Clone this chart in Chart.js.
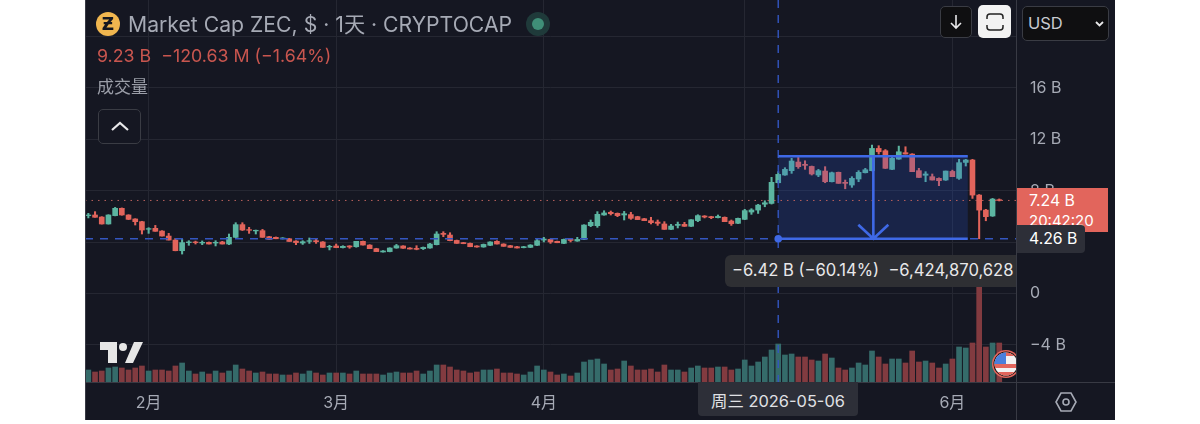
<!DOCTYPE html>
<html>
<head>
<meta charset="utf-8">
<title>Market Cap ZEC</title>
<script src="https://cdn.jsdelivr.net/npm/chart.js@4/dist/chart.umd.min.js"></script>
<style>
  html, body { margin: 0; padding: 0; background: #fff; overflow: hidden; }
  body { width: 1200px; height: 424px; position: relative; font-family: Inter, "Noto Sans CJK SC", sans-serif; }
  canvas { position: absolute; left: 0; top: 0; }
  .abs { position: absolute; white-space: nowrap; }
  .btn { box-sizing: border-box; border: 1.5px solid #3a3c44; border-radius: 5px; background: #0f0f11; }
</style>
</head>
<body>
<canvas id="chart" width="1200" height="424"></canvas>

<div class="abs" style="left:96px;top:12px;width:24px;height:24px;border-radius:50%;background:#f0b64f;color:#15171f;font:bold 17px/24px 'DejaVu Sans';text-align:center">Ƶ</div>
<div class="abs" style="left:128px;top:11px;font-size:21.2px;line-height:26px;color:#a6aab5">Market Cap ZEC, $ · 1天 · CRYPTOCAP</div>
<div class="abs" style="left:526px;top:12px;width:24px;height:24px;border-radius:50%;background:#1f3a3a"></div>
<div class="abs" style="left:532px;top:18px;width:12px;height:12px;border-radius:50%;background:#3f8f78"></div>
<div class="abs" style="left:97px;top:45px;font-size:17.8px;line-height:22px;color:#c9564f">9.23 B&nbsp; −120.63 M (−1.64%)</div>
<div class="abs" style="left:97px;top:77px;font-size:17px;line-height:21px;color:#9b9ea8">成交量</div>
<div class="abs btn" style="left:98px;top:109px;width:43px;height:35px;background:#151722"></div>
<svg class="abs" style="left:110px;top:120px" width="20" height="12"><path d="M2 10 L10 3 L18 10" fill="none" stroke="#e8e8ea" stroke-width="2.2"/></svg>

<div class="abs btn" style="left:940px;top:6px;width:32px;height:32px"></div>
<svg class="abs" style="left:948px;top:13px" width="16" height="18"><path d="M8 2 V15 M3 10 L8 15 L13 10" fill="none" stroke="#e8e8ea" stroke-width="1.6"/></svg>
<div class="abs" style="left:978px;top:5px;width:33px;height:33px;border-radius:5px;background:#f2f2f2"></div>
<svg class="abs" style="left:986px;top:13px" width="18" height="18"><path d="M1 6 V4 Q1 1 4 1 H14 Q17 1 17 4 V6 M1 12 V14 Q1 17 4 17 H14 Q17 17 17 14 V12" fill="none" stroke="#222" stroke-width="1.5"/></svg>
<div class="abs btn" style="left:1022px;top:6px;width:87px;height:35px"></div>
<div class="abs" style="left:1028px;top:12px;font-size:16.5px;line-height:22px;color:#c8cad0">USD</div>
<svg class="abs" style="left:1094px;top:20px" width="11" height="8"><path d="M2 2 L5.5 5.5 L9 2" fill="none" stroke="#e8e8ea" stroke-width="1.8"/></svg>

<svg class="abs" style="left:100px;top:342px" width="44" height="22"><path d="M0 0 H17 V21 H8 V8 H0 Z M25 21 L34 0 H43 L33 21 Z" fill="#e6e6e6"/><circle cx="23" cy="5" r="4" fill="#e6e6e6"/></svg>

<div class="abs" style="left:1017px;top:188px;width:91px;height:44px;background:#e2655c;color:#fff;font-size:15.8px;line-height:20px;box-sizing:border-box;padding:3px 0 0 12px">7.24 B<br><span style="font-size:15px">20:42:20</span></div>
<div class="abs" style="left:1017px;top:225px;width:68px;height:28px;background:#2d2f38;border-radius:0 4px 4px 0;color:#fff;font-size:15.8px;line-height:28px;box-sizing:border-box;padding-left:12px">4.26 B</div>
<div class="abs" style="left:725px;top:255px;width:291px;height:32px;background:#2e2f33;border-radius:6px 0 0 6px;color:#e8e8ea;font-size:16.6px;line-height:31px;box-sizing:border-box;padding-left:7px">−6.42 B (−60.14%)&nbsp; −6,424,870,628</div>
<div class="abs" style="left:698px;top:382px;width:160px;height:34px;background:#2d2f38;border-radius:0 0 4px 4px;color:#e0e1e5;font-size:16.4px;line-height:38px;text-align:center">周三 2026-05-06</div>

<svg class="abs" style="left:992px;top:349px" width="24" height="30"><defs><clipPath id="f"><circle cx="14" cy="15" r="11.5"/></clipPath></defs>
<circle cx="14" cy="15" r="14" fill="#e2655c"/><circle cx="14" cy="15" r="12.5" fill="#111"/>
<g clip-path="url(#f)"><rect width="30" height="30" fill="#f2f2f2"/><rect x="0" y="15" width="30" height="4" fill="#e2655c"/><rect x="0" y="3" width="30" height="4" fill="#e2655c"/><rect x="0" y="23" width="30" height="4" fill="#e2655c"/><rect x="0" y="2" width="14" height="13" fill="#4a7fdc"/></g></svg>

<svg class="abs" style="left:1055px;top:390px" width="22" height="24"><path d="M6 3 H16 L21 12 L16 21 H6 L1 12 Z" fill="none" stroke="#a6aab5" stroke-width="1.6"/><circle cx="11" cy="12" r="3" fill="none" stroke="#a6aab5" stroke-width="1.6"/></svg>

<script>
// market cap candles in billions USD, one per day from 2026-01-23, last is 2026-06-08
const opens = [
  6.06,6.11,5.95,5.41,6.06,6.63,6.11,5.80,5.59,5.00,
  5.07,4.86,4.47,4.16,3.33,3.96,4.01,3.93,3.98,3.93,
  4.01,3.85,4.37,5.36,4.97,4.87,4.89,4.42,4.37,4.26,
  4.26,4.08,3.93,4.06,4.11,4.01,3.62,3.70,3.57,3.70,
  3.64,4.06,3.77,3.49,3.23,3.26,3.54,3.70,3.54,3.51,
  3.49,3.54,3.80,4.68,4.55,4.13,3.96,3.90,3.70,3.62,
  3.75,4.06,3.85,3.72,3.64,3.57,3.59,3.75,4.16,4.21,
  4.06,3.90,4.24,4.08,4.21,5.28,5.28,6.11,6.32,6.24,
  6.11,6.14,5.98,5.82,5.67,5.56,5.41,4.99,5.30,5.38,
  5.23,5.67,6.03,5.98,5.90,5.93,5.64,5.46,5.77,6.34,
  6.49,6.95,7.01,8.62,9.22,9.56,10.23,10.05,9.89,9.22,
  9.53,8.70,9.43,8.65,8.44,8.91,9.40,9.56,11.29,11.11,
  9.66,10.46,10.96,10.85,9.56,9.20,9.09,8.96,8.83,9.50,
  8.96,10.20,10.39,7.66,6.49,6.03,7.30];
const highs = [
  6.24,6.37,5.98,6.13,6.70,6.66,6.13,5.82,5.62,5.12,
  5.30,4.89,4.68,4.29,4.21,4.11,4.08,4.09,4.01,4.11,
  4.06,4.63,5.51,5.51,5.15,4.94,4.99,4.45,4.40,4.35,
  4.29,4.11,4.11,4.32,4.27,4.04,3.75,3.85,3.72,3.72,
  4.06,4.08,3.80,3.52,3.34,3.56,3.82,3.72,3.57,3.72,
  3.62,3.90,4.81,4.81,4.73,4.16,3.98,3.93,3.72,3.85,
  4.03,4.11,3.87,3.75,3.67,3.67,3.80,4.21,4.37,4.24,
  4.08,4.24,4.29,4.37,5.35,5.72,6.37,6.44,6.42,6.27,
  6.39,6.32,6.01,5.85,5.93,5.72,5.59,5.38,5.56,5.54,
  5.75,6.13,6.06,6.01,6.11,5.96,5.72,5.87,6.55,6.60,
  6.94,7.22,9.04,9.48,9.79,10.52,10.59,10.33,9.92,9.66,
  9.87,9.45,9.45,8.83,9.09,9.56,9.74,11.55,11.50,11.20,
  10.60,11.47,11.42,10.88,9.74,9.48,9.30,9.00,9.53,9.60,
  10.44,10.44,10.44,7.70,6.55,7.40,7.36];
const lows = [
  5.88,5.93,5.40,5.40,6.04,6.09,5.75,5.33,4.63,4.68,
  4.84,4.47,4.16,3.32,3.07,3.75,3.85,3.80,3.85,3.70,
  3.85,3.80,4.35,4.90,4.68,4.63,4.37,4.21,4.26,4.24,
  4.05,3.80,3.82,3.90,3.90,3.59,3.39,3.56,3.54,3.52,
  3.60,3.77,3.49,3.26,3.22,3.24,3.52,3.51,3.46,3.40,
  3.42,3.52,3.78,4.42,4.10,3.90,3.87,3.64,3.60,3.60,
  3.72,3.85,3.67,3.59,3.54,3.55,3.57,3.73,4.01,3.90,
  3.95,3.88,4.01,4.06,4.19,5.20,5.15,6.09,6.11,5.98,
  5.72,5.77,5.75,5.67,5.41,5.30,4.99,4.97,5.10,5.22,
  5.21,5.59,5.88,5.82,5.88,5.59,5.30,5.44,5.75,6.16,
  6.23,6.75,6.96,8.60,9.20,9.35,9.74,9.66,9.22,9.09,
  8.62,8.68,8.57,8.15,8.26,8.70,9.38,9.54,10.85,9.72,
  9.64,10.44,10.85,9.48,9.03,8.70,8.83,8.39,8.80,9.09,
  8.88,9.92,7.40,4.26,5.66,6.00,7.20];
const closes = [
  6.11,5.93,5.41,6.11,6.63,6.11,5.77,5.59,4.94,5.05,
  4.84,4.47,4.16,3.33,3.96,4.01,3.96,3.98,3.85,3.98,
  3.85,4.37,5.36,4.94,4.92,4.92,4.37,4.21,4.26,4.32,
  4.05,3.96,4.03,4.11,4.03,3.59,3.67,3.57,3.67,3.62,
  4.06,3.77,3.49,3.26,3.31,3.54,3.72,3.52,3.46,3.44,
  3.59,3.85,4.63,4.60,4.11,3.90,3.88,3.64,3.62,3.82,
  4.01,3.85,3.67,3.59,3.54,3.64,3.77,4.11,4.24,4.01,
  3.95,4.21,4.13,4.21,5.33,5.54,6.16,6.27,6.21,6.06,
  6.21,5.85,5.75,5.67,5.51,5.46,4.99,5.25,5.38,5.23,
  5.74,6.06,5.95,5.90,6.00,5.59,5.43,5.85,6.45,6.50,
  6.88,7.06,8.65,9.27,9.66,10.31,9.87,9.97,9.30,9.56,
  8.70,9.40,8.57,8.57,8.96,9.43,9.63,11.29,11.03,9.74,
  10.52,11.03,10.85,9.48,9.03,9.30,8.83,8.78,9.53,9.09,
  10.18,10.39,7.66,6.49,5.98,7.35,7.24];
const volumes = [
  12,10,11,14,15,14,12,14,16,11,
  12,12,11,16,19,11,8,10,8,11,
  9,11,17,13,11,9,10,8,8,7,
  7,9,8,11,9,7,9,9,9,8,
  11,8,8,8,7,9,10,9,9,11,
  8,11,17,17,15,12,11,9,10,12,
  12,13,9,9,8,7,10,16,12,10,
  7,8,6,9,20,22,23,18,12,13,
  21,16,12,12,13,10,17,12,12,10,
  14,16,14,14,15,15,12,13,22,16,
  20,25,32,38,27,28,25,25,22,21,
  28,24,14,12,14,19,17,31,25,18,
  23,23,19,31,20,21,19,14,18,23,
  35,34,39,110,35,39,39];

const priceTicks = [-4, 0, 4, 8, 12, 16, 20];
const monthTicks = { '2026-02-01': '2月', '2026-03-01': '3月', '2026-04-01': '4月', '2026-05-01': '', '2026-06-01': '6月' };

// measure tool: from the 05-06 candle down to 4.26 B
const measureTop = 10.68;
const measureBottom = 4.26;
const measureStart = '2026-05-06';
const measureEndIndex = 131.3;
const arrowIndex = 117.2;
const lastPrice = 7.24;

const days = [];
for (let i = 0; i < 139; i++) {
  days.push(new Date(Date.UTC(2026, 0, 23 + i)).toISOString().slice(0, 10));
}

const GREEN = '#5cb5a1', RED = '#e2645b';
const upFlags = closes.map((c, i) => c >= opens[i]);
const candleColors = upFlags.map(u => u ? GREEN : RED);
const volumeColors = upFlags.map(u => u ? '#356b6a' : '#823b40');

const backdrop = {
  id: 'backdrop',
  beforeDraw(chart) {
    const c = chart.ctx;
    c.save();
    c.fillStyle = '#151722';
    c.fillRect(85, 0, 1030, 420);
    c.restore();
  },
  afterDraw(chart) {
    const c = chart.ctx, a = chart.chartArea;
    c.save();
    c.strokeStyle = '#383a44';
    c.lineWidth = 1;
    c.beginPath();
    c.moveTo(a.right + .5, 0); c.lineTo(a.right + .5, 420);
    c.moveTo(a.left, a.bottom + .5); c.lineTo(1115, a.bottom + .5);
    c.moveTo(85.5, 0); c.lineTo(85.5, 420);
    c.stroke();
    c.restore();
  }
};

const measure = {
  id: 'measure',
  afterDatasetsDraw(chart) {
    const c = chart.ctx, a = chart.chartArea;
    const x = chart.scales.x, y = chart.scales.y;
    const left = x.getPixelForValue(days.indexOf(measureStart));
    const right = x.getPixelForValue(measureEndIndex);
    const mid = x.getPixelForValue(arrowIndex);
    const top = y.getPixelForValue(measureTop);
    const bottom = y.getPixelForValue(measureBottom);
    const last = y.getPixelForValue(lastPrice);

    c.save();
    c.fillStyle = 'rgba(41,86,210,0.22)';
    c.fillRect(left, top, right - left, bottom - top);

    // last price dotted line
    c.strokeStyle = '#b8605c';
    c.lineWidth = 1;
    c.setLineDash([1.5, 5]);
    c.beginPath(); c.moveTo(a.left, last); c.lineTo(a.right, last); c.stroke();

    // crosshair
    c.strokeStyle = '#3456c0';
    c.lineWidth = 1.4;
    c.setLineDash([8, 7]);
    c.beginPath();
    c.moveTo(a.left, bottom); c.lineTo(a.right, bottom);
    c.moveTo(left, 0); c.lineTo(left, a.bottom);
    c.stroke();

    // measure lines and arrow
    c.setLineDash([]);
    c.strokeStyle = '#3f69e6';
    c.lineWidth = 2.6;
    c.beginPath();
    c.moveTo(left, top); c.lineTo(right, top);
    c.moveTo(left, bottom); c.lineTo(right, bottom);
    c.moveTo(mid, top); c.lineTo(mid, bottom);
    c.moveTo(mid - 15, bottom - 14); c.lineTo(mid, bottom); c.lineTo(mid + 15, bottom - 14);
    c.stroke();
    c.fillStyle = '#3f69e6';
    c.beginPath(); c.arc(left, bottom, 3.8, 0, Math.PI * 2); c.fill();
    c.restore();
  }
};

new Chart(document.getElementById('chart'), {
  type: 'bar',
  data: {
    labels: days,
    datasets: [
      { label: 'body', data: opens.map((o, i) => [o, closes[i]]), backgroundColor: candleColors, barThickness: 5, grouped: false, yAxisID: 'y' },
      { label: 'wick', data: lows.map((l, i) => [l, highs[i]]), backgroundColor: candleColors, barThickness: 1.4, grouped: false, yAxisID: 'y' },
      { label: 'volume', data: volumes, backgroundColor: volumeColors, barThickness: 5, grouped: false, yAxisID: 'vol' }
    ]
  },
  options: {
    responsive: false,
    animation: false,
    devicePixelRatio: 1,
    layout: { padding: { left: 85, right: 85, top: 0, bottom: 4 } },
    plugins: { legend: { display: false }, tooltip: { enabled: false }, title: { display: false } },
    scales: {
      x: {
        offset: true,
        afterBuildTicks(axis) { axis.ticks = axis.ticks.filter(t => days[t.value] in monthTicks); },
        afterFit(axis) { axis.height = 38; axis.paddingLeft = 0; axis.paddingRight = 0; },
        grid: { offset: false, color: '#252732', drawTicks: false },
        border: { display: false },
        ticks: {
          autoSkip: false, maxRotation: 0, padding: 12, color: '#a6aab5',
          font: { family: 'Inter, "Noto Sans CJK SC", sans-serif', size: 16 },
          callback(value) { return monthTicks[days[value]]; }
        }
      },
      y: {
        position: 'right',
        min: -6.887,
        max: 22.84,
        afterBuildTicks(axis) { axis.ticks = priceTicks.map(v => ({ value: v })); },
        afterFit(axis) { axis.width = 99; axis.paddingTop = 0; axis.paddingBottom = 0; },
        grid: { color: '#252732', drawTicks: false },
        border: { display: false },
        ticks: {
          padding: 14, color: '#a6aab5',
          font: { family: 'Inter, sans-serif', size: 16 },
          callback(v) { return v === 20 ? '' : v === 0 ? '0' : String(v).replace('-', '−') + ' B'; }
        }
      },
      vol: { display: false, min: 0, max: 382 }
    }
  },
  plugins: [backdrop, measure]
});
</script>
</body>
</html>
